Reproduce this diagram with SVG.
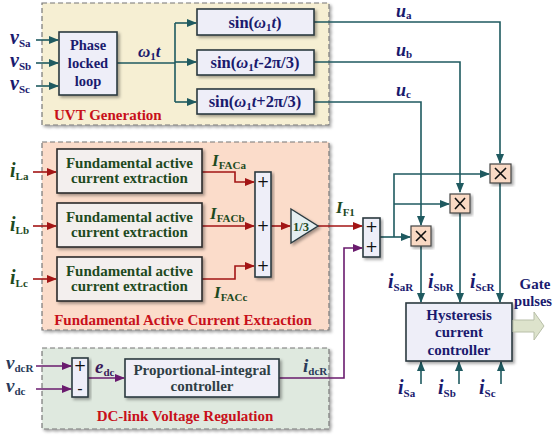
<svg xmlns="http://www.w3.org/2000/svg" width="554" height="439" viewBox="0 0 554 439">
<defs>
<filter id="sh" x="-10%" y="-10%" width="130%" height="130%"><feDropShadow dx="2" dy="2" stdDeviation="1.5" flood-color="#000" flood-opacity="0.35"/></filter>
<marker id="at" markerWidth="10" markerHeight="8" refX="9" refY="4" orient="auto" markerUnits="userSpaceOnUse"><path d="M0,0 L10,4 L0,8 z" fill="#1f5a60"/></marker>
<marker id="ar" markerWidth="10" markerHeight="8" refX="9" refY="4" orient="auto" markerUnits="userSpaceOnUse"><path d="M0,0 L10,4 L0,8 z" fill="#a31515"/></marker>
<marker id="ap" markerWidth="10" markerHeight="8" refX="9" refY="4" orient="auto" markerUnits="userSpaceOnUse"><path d="M0,0 L10,4 L0,8 z" fill="#6a1b6e"/></marker>
</defs>
<style>
text{font-family:"Liberation Serif","Times New Roman",serif;font-weight:bold}
.grp{stroke:#777;stroke-width:1.2;stroke-dasharray:5,3;filter:url(#sh)}
.blk{fill:#eeeef8;stroke:#2a3a40;stroke-width:1.6;filter:url(#sh)}
.fbk{fill:#f3efee;stroke:#2a2a2a;stroke-width:1.6;filter:url(#sh)}
.mul{fill:#f9d9c4;stroke:#444;stroke-width:1.2;filter:url(#sh)}
.t{fill:none;stroke:#1f5a60;stroke-width:1.6}
.r{fill:none;stroke:#a31515;stroke-width:1.6}
.p{fill:none;stroke:#6a1b6e;stroke-width:1.6}
.navy{fill:#1a1a6e}
.grn{fill:#1e4a1e}
.red{fill:#c8101a;font-size:15px}
.var{font-style:italic;font-size:20px}
.sub{font-size:11px;font-style:normal}
.pm{font-family:"DejaVu Sans",sans-serif;font-weight:normal;font-size:15px;fill:#111}
.ft{font-size:15px}
</style>

<g id="uvt-group">
<rect x="42" y="3" width="287" height="122" fill="#f6efd3" class="grp"/>
<text x="54" y="120" class="red">UVT Generation</text>
</g>
<g id="face-group">
<rect x="42" y="142" width="287" height="188" fill="#fbdcca" class="grp"/>
<text x="183" y="325" class="red" text-anchor="middle">Fundamental Active Current Extraction</text>
</g>
<g id="dc-group">
<rect x="42" y="348" width="287" height="81" fill="#dfe9df" class="grp"/>
<text x="185" y="421" class="red" text-anchor="middle">DC-link Voltage Regulation</text>
</g>

<g id="connectors">
<path class="t" d="M36,40 H58" marker-end="url(#at)"/>
<path class="t" d="M36,63 H58" marker-end="url(#at)"/>
<path class="t" d="M36,86 H58" marker-end="url(#at)"/>
<path class="t" d="M117,63 H175"/>
<path class="t" d="M175,23 V102"/>
<path class="t" d="M175,23 H196" marker-end="url(#at)"/>
<path class="t" d="M175,62 H196" marker-end="url(#at)"/>
<path class="t" d="M175,102 H196" marker-end="url(#at)"/>
<path class="t" d="M314,22 H500 V163" marker-end="url(#at)"/>
<path class="t" d="M314,62 H460 V192" marker-end="url(#at)"/>
<path class="t" d="M314,102 H421 V225" marker-end="url(#at)"/>
<path class="t" d="M380,237 H410" marker-end="url(#at)"/>
<path class="t" d="M394,237 V174 H489" marker-end="url(#at)"/>
<path class="t" d="M394,204 H449" marker-end="url(#at)"/>
<path class="t" d="M421,246 V302" marker-end="url(#at)"/>
<path class="t" d="M460,213 V302" marker-end="url(#at)"/>
<path class="t" d="M500,183 V302" marker-end="url(#at)"/>
<path class="t" d="M421,384 V362" marker-end="url(#at)"/>
<path class="t" d="M459,384 V362" marker-end="url(#at)"/>
<path class="t" d="M501,384 V362" marker-end="url(#at)"/>
<path class="r" d="M33,172 H56" marker-end="url(#ar)"/>
<path class="r" d="M33,226 H56" marker-end="url(#ar)"/>
<path class="r" d="M33,279 H56" marker-end="url(#ar)"/>
<path class="r" d="M202,172 H235 V182 H254" marker-end="url(#ar)"/>
<path class="r" d="M202,226 H254" marker-end="url(#ar)"/>
<path class="r" d="M202,279 H235 V266 H254" marker-end="url(#ar)"/>
<path class="r" d="M271,226 H290" marker-end="url(#ar)"/>
<path class="r" d="M318,226 H362" marker-end="url(#ar)"/>
<path class="p" d="M36,366 H71" marker-end="url(#ap)"/>
<path class="p" d="M36,389 H71" marker-end="url(#ap)"/>
<path class="p" d="M88,378 H124" marker-end="url(#ap)"/>
<path class="p" d="M279,378 H344 V248 H362" marker-end="url(#ap)"/>
</g>

<g id="pll">
<rect x="59" y="32" width="58" height="63" class="blk"/>
<text x="88" y="50" class="navy" font-size="14.5" text-anchor="middle">Phase</text>
<text x="88" y="68" class="navy" font-size="14.5" text-anchor="middle">locked</text>
<text x="88" y="86" class="navy" font-size="14.5" text-anchor="middle">loop</text>
</g>
<g id="sin-a">
<rect x="197" y="9" width="117" height="26" class="blk"/>
<text x="255" y="28" class="navy" font-size="16.5" text-anchor="middle">sin(<tspan font-style="italic">ω</tspan><tspan font-size="11" dy="3">1</tspan><tspan font-style="italic" dy="-3">t</tspan>)</text>
</g>
<g id="sin-b">
<rect x="197" y="50" width="117" height="25" class="blk"/>
<text x="255" y="68" class="navy" font-size="16.5" text-anchor="middle">sin(<tspan font-style="italic">ω</tspan><tspan font-size="11" dy="3">1</tspan><tspan font-style="italic" dy="-3">t</tspan>-2π/3)</text>
</g>
<g id="sin-c">
<rect x="197" y="89" width="117" height="25" class="blk"/>
<text x="255" y="107" class="navy" font-size="16.5" text-anchor="middle">sin(<tspan font-style="italic">ω</tspan><tspan font-size="11" dy="3">1</tspan><tspan font-style="italic" dy="-3">t</tspan>+2π/3)</text>
</g>

<g id="face-a">
<rect x="57" y="149" width="145" height="44" class="fbk"/>
<text x="129.5" y="168" class="grn ft" text-anchor="middle">Fundamental active</text>
<text x="129.5" y="183" class="grn ft" text-anchor="middle">current extraction</text>
</g>
<g id="face-b">
<rect x="57" y="203" width="145" height="44" class="fbk"/>
<text x="129.5" y="222" class="grn ft" text-anchor="middle">Fundamental active</text>
<text x="129.5" y="237" class="grn ft" text-anchor="middle">current extraction</text>
</g>
<g id="face-c">
<rect x="57" y="257" width="145" height="44" class="fbk"/>
<text x="129.5" y="276" class="grn ft" text-anchor="middle">Fundamental active</text>
<text x="129.5" y="291" class="grn ft" text-anchor="middle">current extraction</text>
</g>
<g id="sum3">
<rect x="255" y="172" width="16" height="105" class="blk"/>
<text x="263" y="187" class="pm" text-anchor="middle">+</text>
<text x="263" y="231" class="pm" text-anchor="middle">+</text>
<text x="263" y="271" class="pm" text-anchor="middle">+</text>
</g>
<g id="gain">
<path d="M291,209 L318,226 L291,243 z" fill="#e4eef0" stroke="#2a3a40" stroke-width="1.4" filter="url(#sh)"/>
<text x="301" y="230.5" class="grn" font-size="12.5" text-anchor="middle">1/3</text>
</g>
<g id="sum2">
<rect x="363" y="218" width="17" height="39" class="blk"/>
<text x="371.5" y="232" class="pm" text-anchor="middle">+</text>
<text x="371.5" y="252" class="pm" text-anchor="middle">+</text>
</g>
<g id="mul-a">
<rect x="490" y="164" width="21" height="19" class="mul"/>
<path d="M495,168 L506,179 M506,168 L495,179" stroke="#111" stroke-width="1.6"/>
</g>
<g id="mul-b">
<rect x="450" y="194" width="20" height="19" class="mul"/>
<path d="M455,198 L465,209 M465,198 L455,209" stroke="#111" stroke-width="1.6"/>
</g>
<g id="mul-c">
<rect x="411" y="226" width="20" height="20" class="mul"/>
<path d="M416,231 L426,241 M426,231 L416,241" stroke="#111" stroke-width="1.6"/>
</g>
<g id="hcc">
<rect x="406" y="303" width="106" height="58" class="blk"/>
<text x="459" y="320" class="navy" font-size="15" text-anchor="middle">Hysteresis</text>
<text x="459" y="337" class="navy" font-size="15" text-anchor="middle">current</text>
<text x="459" y="355" class="navy" font-size="15" text-anchor="middle">controller</text>
</g>
<g id="gate-arrow">
<path d="M513,320 H534 V312 L544,326 L534,340 V332 H513 z" fill="#dde3cc" stroke="#b8bfa8" stroke-width="1"/>
<text x="535" y="289" class="navy" font-size="15" text-anchor="middle">Gate</text>
<text x="552" y="306" class="navy" font-size="14.5" text-anchor="end">pulses</text>
</g>
<g id="sub">
<rect x="72" y="358" width="16" height="39" class="blk"/>
<text x="80" y="371" class="pm" text-anchor="middle">+</text>
<text x="80" y="394" class="pm" text-anchor="middle">-</text>
</g>
<g id="pi">
<rect x="125" y="359" width="154" height="38" class="blk" style="fill:#f0eff8"/>
<text x="202" y="375" fill="#2f3e44" font-size="15" text-anchor="middle">Proportional-integral</text>
<text x="202" y="391" fill="#2f3e44" font-size="15" text-anchor="middle">controller</text>
</g>

<g id="labels">
<text x="10" y="44" class="navy var">v<tspan class="sub" dy="3">Sa</tspan></text>
<text x="10" y="67" class="navy var">v<tspan class="sub" dy="3">Sb</tspan></text>
<text x="10" y="90" class="navy var">v<tspan class="sub" dy="3">Sc</tspan></text>
<text x="138" y="57" class="navy" font-size="17"><tspan font-style="italic">ω</tspan><tspan font-size="11" dy="3">1</tspan><tspan font-style="italic" dy="-3">t</tspan></text>
<text x="396" y="17" class="navy" font-size="18" font-style="italic">u<tspan class="sub" dy="2">a</tspan></text>
<text x="396" y="56" class="navy" font-size="18" font-style="italic">u<tspan class="sub" dy="2">b</tspan></text>
<text x="396" y="96" class="navy" font-size="18" font-style="italic">u<tspan class="sub" dy="2">c</tspan></text>
<text x="10" y="177" class="grn var">i<tspan class="sub" dy="3">La</tspan></text>
<text x="10" y="231" class="grn var">i<tspan class="sub" dy="3">Lb</tspan></text>
<text x="10" y="284" class="grn var">i<tspan class="sub" dy="3">Lc</tspan></text>
<text x="212" y="166" class="grn" font-size="17" font-style="italic">I<tspan class="sub" dy="3">FACa</tspan></text>
<text x="210" y="219" class="grn" font-size="17" font-style="italic">I<tspan class="sub" dy="3">FACb</tspan></text>
<text x="214" y="298" class="grn" font-size="17" font-style="italic">I<tspan class="sub" dy="3">FACc</tspan></text>
<text x="336" y="213" class="grn" font-size="17" font-style="italic">I<tspan class="sub" font-style="italic" dy="3">F</tspan><tspan class="sub" font-style="normal">1</tspan></text>
<text x="388" y="288" class="navy var">i<tspan class="sub" dy="3">SaR</tspan></text>
<text x="428" y="288" class="navy var">i<tspan class="sub" dy="3">SbR</tspan></text>
<text x="470" y="288" class="navy var">i<tspan class="sub" dy="3">ScR</tspan></text>
<text x="398" y="394" class="navy var">i<tspan class="sub" dy="3">Sa</tspan></text>
<text x="438" y="394" class="navy var">i<tspan class="sub" dy="3">Sb</tspan></text>
<text x="479" y="394" class="navy var">i<tspan class="sub" dy="3">Sc</tspan></text>
<text x="6" y="369" fill="#2a3a5a" font-size="19" font-style="italic">v<tspan class="sub" dy="3">dcR</tspan></text>
<text x="6" y="392" fill="#2a3a5a" font-size="19" font-style="italic">v<tspan class="sub" dy="3">dc</tspan></text>
<text x="95" y="373" fill="#3a1a5a" font-size="19" font-style="italic">e<tspan class="sub" dy="3">dc</tspan></text>
<text x="303" y="372" fill="#2a3a5a" font-size="19" font-style="italic">i<tspan class="sub" dy="3">dcR</tspan></text>
</g>
</svg>
